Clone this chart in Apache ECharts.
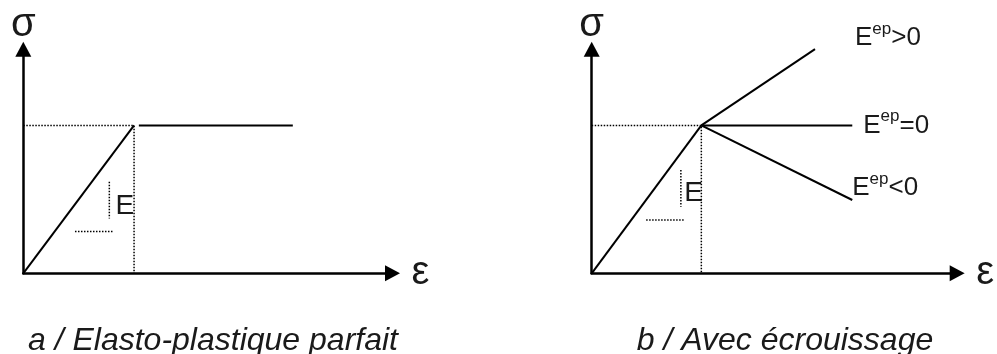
<!DOCTYPE html>
<html>
<head>
<meta charset="utf-8">
<script src="https://cdn.jsdelivr.net/npm/echarts@6/dist/echarts.min.js"></script>
<style>
  html, body { margin: 0; padding: 0; background: #fff; }
  #chart { width: 997px; height: 354px; }
</style>
</head>
<body>
<div id="chart"></div>
<script>
// Strain (ε) and stress (σ) in arbitrary units: both axes run 0..10.
const axisMax = 10;
const axisNames = ['σ', 'ε'];
const captions = ['a / Elasto-plastique parfait', 'b / Avec écrouissage'];

// Panel a: elastic branch, then perfectly plastic plateau
const elasticA = [[0, 0], [3.0, 6.6]];
const plateauA = [[3.13, 6.6], [7.3, 6.6]];
const yieldGuideA = [[0, 6.6], [3.0, 6.6], [3.0, 0]];
const slopeRiseA = [[2.33, 4.09], [2.33, 2.45]];
const slopeRunA = [[1.40, 1.86], [2.42, 1.86]];
const slopeLabelA = [[2.75, 3.0]];

// Panel b: elastic branch, then three post-yield branches
const elasticB = [[0, 0], [3.0, 6.6]];
const branchPos = [[3.0, 6.6], [6.11, 10.0]];
const branchZero = [[3.0, 6.6], [7.13, 6.6]];
const branchNeg = [[3.0, 6.6], [7.13, 3.27]];
const branchSigns = ['>0', '=0', '<0'];
const yieldGuideB = [[0, 6.6], [3.0, 6.6], [3.0, 0]];
const slopeRiseB = [[2.44, 4.61], [2.44, 2.97]];
const slopeRunB = [[1.49, 2.38], [2.52, 2.38]];
const slopeLabelB = [[2.79, 3.58]];

const FONT = '"Liberation Sans", Arial, Helvetica, sans-serif';
const INK = '#000';
const TEXT = '#1a1a1a';

const chart = echarts.init(document.getElementById('chart'), null, { renderer: 'canvas' });

function xAxisFor(gridIndex) {
  return {
    gridIndex, type: 'value', min: 0, max: axisMax,
    axisLine: { show: true, onZero: false, symbol: ['none', 'triangle'], symbolSize: [16, 15],
      lineStyle: { color: INK, width: 2.5 } },
    axisTick: { show: false }, axisLabel: { show: false }, splitLine: { show: false },
    name: axisNames[1], nameLocation: 'end', nameGap: 19,
    nameTextStyle: { fontFamily: FONT, fontSize: 40, color: TEXT, padding: [0, 0, 24, 0] }
  };
}
function yAxisFor(gridIndex) {
  return {
    gridIndex, type: 'value', min: 0, max: axisMax,
    axisLine: { show: true, onZero: false, symbol: ['none', 'triangle'], symbolSize: [16, 15],
      lineStyle: { color: INK, width: 2.5 } },
    axisTick: { show: false }, axisLabel: { show: false }, splitLine: { show: false },
    name: axisNames[0], nameLocation: 'end', nameGap: 4,
    nameTextStyle: { fontFamily: FONT, fontSize: 40, color: TEXT }
  };
}

function solid(data, gi, extra) {
  return Object.assign({
    type: 'line', data, xAxisIndex: gi, yAxisIndex: gi, showSymbol: false, symbol: 'none',
    clip: false, silent: true, lineStyle: { color: INK, width: 2 }
  }, extra || {});
}
function dotted(data, gi) {
  return {
    type: 'line', data, xAxisIndex: gi, yAxisIndex: gi, showSymbol: false, symbol: 'none',
    clip: false, silent: true, lineStyle: { color: INK, width: 1.5, type: [1.5, 1.5] }
  };
}
function textAt(data, gi, text) {
  return {
    type: 'scatter', data, xAxisIndex: gi, yAxisIndex: gi, symbolSize: 1, silent: true,
    clip: false, itemStyle: { color: 'rgba(0,0,0,0)', opacity: 1 },
    label: { show: true, position: 'inside', formatter: text, fontFamily: FONT, fontSize: 28,
      color: TEXT, opacity: 1, textBorderWidth: 0 }
  };
}
// "E^ep" followed by the sign of the elasto-plastic modulus, with a raised "ep"
function branchLabel(sign, offset) {
  return {
    show: true, distance: 0, offset,
    formatter: '{b|E}{s|ep}{b|' + sign + '}',
    rich: {
      b: { fontFamily: FONT, fontSize: 26, lineHeight: 26, padding: [9, 0, 0, 0], color: TEXT },
      s: { fontFamily: FONT, fontSize: 17, lineHeight: 8, verticalAlign: 'top', color: TEXT }
    }
  };
}

chart.setOption({
  animation: false,
  backgroundColor: '#fff',
  title: captions.map((t, i) => ({
    text: t, left: i === 0 ? 213 : 785, top: 325, textAlign: 'center', padding: 0,
    textStyle: { fontFamily: FONT, fontSize: 32, fontStyle: 'italic', fontWeight: 'normal', color: TEXT }
  })),
  grid: [
    { left: 23.3, top: 49.2, width: 369.2, height: 224.1 },
    { left: 591.7, top: 49.2, width: 369.1, height: 224.1 }
  ],
  xAxis: [xAxisFor(0), xAxisFor(1)],
  yAxis: [yAxisFor(0), yAxisFor(1)],
  series: [
    dotted(yieldGuideA, 0),
    dotted(slopeRiseA, 0),
    dotted(slopeRunA, 0),
    solid(elasticA, 0),
    solid(plateauA, 0),
    textAt(slopeLabelA, 0, 'E'),

    dotted(yieldGuideB, 1),
    dotted(slopeRiseB, 1),
    dotted(slopeRunB, 1),
    solid(elasticB, 1),
    solid(branchPos, 1, { endLabel: branchLabel(branchSigns[0], [40, -15.5]) }),
    solid(branchZero, 1, { endLabel: branchLabel(branchSigns[1], [11, -4.5]) }),
    solid(branchNeg, 1, { endLabel: branchLabel(branchSigns[2], [0, -16.5]) }),
    textAt(slopeLabelB, 1, 'E')
  ]
});
</script>
</body>
</html>
